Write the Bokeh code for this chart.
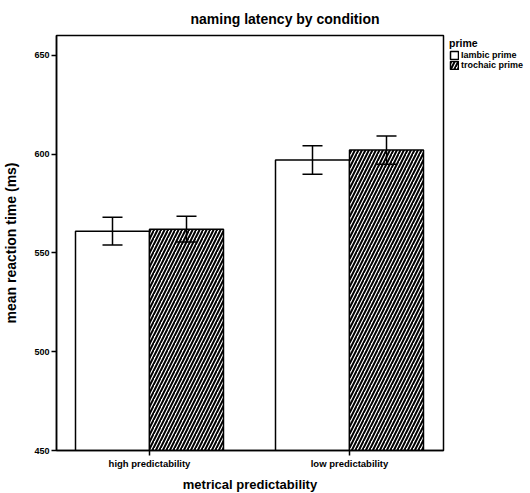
from bokeh.plotting import figure
from bokeh.models import (Range1d, FixedTicker, ColumnDataSource, Whisker, TeeHead,
                          Legend, LegendItem)
from bokeh.embed import file_html
from bokeh.resources import INLINE

# ---- data ----
categories = ["high predictability", "low predictability"]
series_names = ["Iambic prime", "trochaic prime"]
legend_title = "prime"
iambic_means = [561.0, 597.0]
iambic_err = [7.0, 7.2]
trochaic_means = [562.0, 602.0]
trochaic_err = [6.5, 7.2]
y_ticks = [450, 500, 550, 600, 650]

FONT = "Liberation Sans"

centers = [1 + 2 * i for i in range(len(categories))]
bar_w = 0.74
X0, X1 = 0.07, 3.94
Y0, Y1 = 450, 660

p = figure(frame_width=387, frame_height=415, x_range=Range1d(X0, X1), y_range=Range1d(Y0, Y1),
           output_backend="svg", toolbar_location=None,
           title="naming latency by condition")

p.title.text_font = FONT
p.title.text_font_size = "14px"
p.title.text_font_style = "bold"
p.title.text_color = "black"
p.title.align = "left"
p.title.offset = 134
p.title.standoff = 17

p.xgrid.visible = False
p.ygrid.visible = False
p.outline_line_color = "black"
p.outline_line_width = 1.5
p.outline_line_alpha = 1.0
p.background_fill_color = "white"
p.border_fill_color = "white"

for ax in (p.xaxis[0], p.yaxis[0]):
    ax.axis_line_width = 1.5
    ax.axis_line_color = "black"
    ax.major_tick_line_width = 1.5
    ax.major_tick_line_color = "black"
    ax.major_tick_out = 5
    ax.major_tick_in = 0
    ax.minor_tick_line_color = None
    ax.major_label_text_font = FONT
    ax.major_label_text_font_style = "bold"
    ax.major_label_text_color = "black"
    ax.axis_label_text_font = FONT
    ax.axis_label_text_font_style = "bold"
    ax.axis_label_text_color = "black"

p.yaxis.ticker = FixedTicker(ticks=y_ticks)
p.yaxis.axis_label = "mean reaction time (ms)"
p.yaxis.major_label_text_font_size = "9px"
p.yaxis.axis_label_text_font_size = "14px"
p.yaxis.major_label_standoff = 2
p.yaxis.axis_label_standoff = 12

p.xaxis.ticker = FixedTicker(ticks=centers)
p.xaxis.major_label_overrides = {c: lab for c, lab in zip(centers, categories)}
p.xaxis.axis_label = "metrical predictability"
p.xaxis.major_label_text_font_size = "9.5px"
p.xaxis.axis_label_text_font_size = "13px"
p.xaxis.major_label_standoff = 2
p.xaxis.axis_label_standoff = 5

src_i = ColumnDataSource(dict(
    x=[c - bar_w / 2 for c in centers], top=iambic_means,
    lower=[m - e for m, e in zip(iambic_means, iambic_err)],
    upper=[m + e for m, e in zip(iambic_means, iambic_err)]))
src_t = ColumnDataSource(dict(
    x=[c + bar_w / 2 for c in centers], top=trochaic_means,
    lower=[m - e for m, e in zip(trochaic_means, trochaic_err)],
    upper=[m + e for m, e in zip(trochaic_means, trochaic_err)]))

r_i = p.vbar(x="x", top="top", bottom=Y0, width=bar_w, source=src_i,
             fill_color="white", line_color="black", line_width=1.5)
r_t = p.vbar(x="x", top="top", bottom=Y0, width=bar_w, source=src_t,
             fill_color="white", line_color="black", line_width=1.5,
             hatch_pattern="/", hatch_color="black", hatch_weight=2, hatch_scale=7)

for src in (src_i, src_t):
    w = Whisker(base="x", lower="lower", upper="upper", source=src, level="overlay",
                line_color="black", line_width=1.5,
                upper_head=TeeHead(size=20, line_width=1.5, line_color="black"),
                lower_head=TeeHead(size=20, line_width=1.5, line_color="black"))
    p.add_layout(w)

legend = Legend(items=[LegendItem(label=series_names[0], renderers=[r_i]),
                       LegendItem(label=series_names[1], renderers=[r_t])],
                location=(6, 380), margin=0, padding=0, spacing=0,
                glyph_width=10, glyph_height=10, label_height=10, label_standoff=2,
                label_text_font=FONT, label_text_font_size="9px", label_text_font_style="bold",
                label_text_color="black",
                title=legend_title, title_text_font=FONT, title_text_font_size="10.5px",
                title_text_font_style="bold", title_text_color="black", title_standoff=1,
                border_line_color=None, background_fill_alpha=0)
p.add_layout(legend, "right")

open("out.html", "w").write(file_html(p, INLINE))
